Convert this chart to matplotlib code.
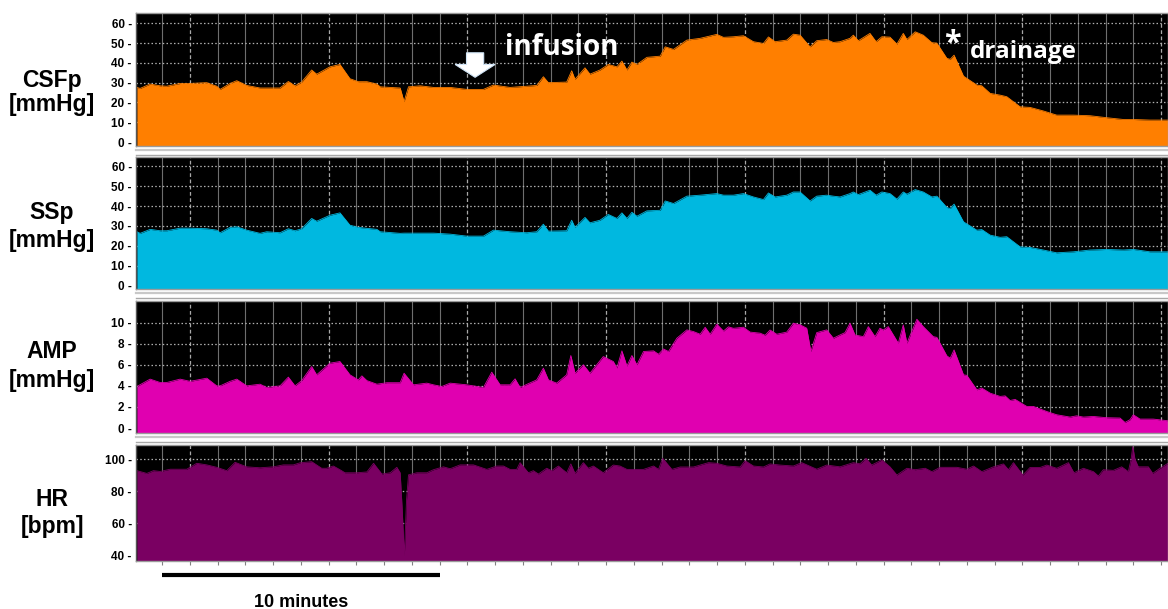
import numpy as np
import matplotlib
matplotlib.use("Agg")
import matplotlib.pyplot as plt
from matplotlib.patches import Polygon
from matplotlib.lines import Line2D

plt.rcParams['font.family'] = ['Liberation Sans', 'DejaVu Sans']

# ---------------------------------------------------------------- data
# time in minutes; CSFp and SSp share one sampling grid
t_press = [-0.91, -0.79, -0.43, -0.07, 0.17, 0.65, 1.01, 1.61, 1.97, 2.09, 2.45, 2.69, 3.05, 3.53,
           3.77, 4.25, 4.55, 4.79, 5.03, 5.39, 5.57, 6.05, 6.41, 6.77, 7.07, 7.38, 7.74, 7.86, 8.58,
           8.72, 8.88, 9.30, 9.78, 10.38, 10.98, 11.58, 11.94, 12.54, 13.14, 13.50, 13.74, 13.92,
           14.58, 14.76, 14.88, 15.24, 15.42, 15.78, 16.08, 16.39, 16.57, 16.75, 16.93, 17.11, 17.47,
           17.95, 18.13, 18.43, 18.91, 19.39, 19.99, 20.23, 20.59, 20.95, 21.31, 21.67, 21.85, 22.09,
           22.51, 22.75, 22.99,
           23.35, 23.59, 23.95, 24.19, 24.43, 24.79, 24.91, 25.09, 25.51, 25.73, 25.94, 26.23, 26.48,
           26.71, 26.84, 27.14, 27.43, 27.74, 27.92, 28.28, 28.40, 28.54, 28.88, 29.36, 29.54, 29.84,
           30.20, 30.44, 30.92, 31.28, 31.76, 32.24, 32.84, 33.44, 34.04, 34.64, 35.00, 35.60, 36.25]

csfp = [27.6, 27.1, 29.3, 28.4, 28.2, 29.6, 29.6, 30.0, 28.2, 26.6, 29.6, 31.0, 28.6, 27.3,
        27.3, 27.3, 30.6, 28.4, 30.3, 36.4, 34.3, 38.0, 39.2, 32.0, 30.5, 30.5, 29.3, 27.9, 27.3,
        20.4, 27.9, 28.4, 27.6, 27.6, 26.6, 26.6, 28.8, 27.6, 28.2, 28.6, 33.0, 30.0,
        30.3, 36.0, 31.7, 37.5, 34.3, 36.4, 39.2, 38.0, 40.9, 36.4, 40.4, 39.2, 42.8,
        43.4, 48.1, 46.8, 51.5, 52.4, 54.4, 52.9, 53.2, 53.7, 50.7, 49.8, 53.1, 50.7,
        51.5, 54.5, 54.0,
        48.1, 51.2, 51.8, 50.3, 50.7, 52.4, 54.0, 51.2, 54.9, 50.7, 53.2, 53.0, 49.5,
        54.9, 51.8, 55.7, 54.0, 50.2, 50.0, 42.3, 41.8, 43.9, 33.3, 28.8, 28.4, 24.6,
        23.7, 22.9, 17.8, 17.5, 15.7, 13.6, 13.6, 13.3, 12.3, 11.4, 11.4, 11.1, 11.1]

ssp = [27.1, 26.3, 28.3, 27.6, 27.6, 28.9, 28.9, 28.6, 27.9, 26.6, 29.3, 29.6, 27.9, 26.3,
       27.1, 26.6, 28.6, 27.6, 28.6, 33.8, 32.4, 35.4, 36.6, 30.4, 29.3, 28.8, 28.3, 27.1, 26.3,
       26.4, 26.4, 26.4, 26.4, 25.9, 24.9, 24.9, 27.9, 27.1, 26.6, 27.1, 30.9, 27.4,
       27.6, 32.9, 29.3, 34.3, 31.6, 32.9, 35.8, 33.8, 36.6, 33.8, 36.9, 34.9, 37.6,
       37.9, 42.6, 41.3, 45.0, 45.5, 46.3, 45.5, 45.5, 46.3, 44.6, 43.3, 46.6, 44.6,
       45.5, 47.1, 47.1,
       42.6, 45.0, 45.5, 45.0, 44.6, 46.3, 47.1, 45.8, 48.0, 45.5, 47.1, 46.3, 43.5,
       47.1, 46.0, 48.3, 47.1, 44.6, 45.0, 39.3, 38.8, 41.0, 32.1, 27.9, 28.2, 25.4,
       24.3, 24.6, 19.5, 19.2, 17.9, 16.5, 17.0, 17.9, 18.2, 17.9, 18.2, 17.0, 17.0]

t_amp = [-0.91, -0.43, -0.07, 0.17, 0.65, 1.01, 1.61, 1.97, 2.09, 2.45, 2.69, 3.05, 3.53, 3.77,
         4.25, 4.55, 4.79, 5.03, 5.39, 5.57, 6.05, 6.41, 6.77, 7.07, 7.20, 7.38, 7.74, 8.10, 8.58,
         8.72, 9.06, 9.54, 9.78, 10.08, 10.38, 10.98, 11.58, 11.88, 12.18, 12.54, 12.72, 12.90,
         13.50, 13.74, 13.92, 14.22, 14.58, 14.73, 14.88, 15.18, 15.42, 15.90, 16.26, 16.39, 16.57,
         16.75, 16.93, 17.11, 17.35, 17.71, 17.89, 18.07, 18.25, 18.55, 18.91, 19.15, 19.39, 19.57,
         19.75, 19.99, 20.23, 20.41, 20.59, 20.95, 21.19, 21.55, 21.73, 21.91, 22.15, 22.51, 22.75,
         22.99,
         23.23, 23.38, 23.59, 23.95, 24.19, 24.43, 24.61, 24.79, 24.97, 25.27, 25.45, 25.69, 25.87,
         25.99, 26.17, 26.53, 26.71, 26.84, 27.20, 27.43, 27.79, 27.92, 28.28, 28.40, 28.54, 28.88,
         29.00, 29.36, 29.54, 29.84, 30.20, 30.38, 30.56, 30.74, 31.16, 31.40, 31.88, 32.24, 32.72,
         32.96, 33.20, 33.56, 34.04, 34.52, 34.70, 34.88, 35.00, 35.24, 35.72, 36.25]

amp = [3.94, 4.64, 4.32, 4.32, 4.64, 4.43, 4.73, 4.0, 4.0, 4.43, 4.64, 4.0, 4.16, 3.85,
       4.0, 4.83, 4.0, 4.5, 5.83, 5.05, 6.15, 6.31, 5.05, 4.57, 4.95, 4.5, 4.16, 4.3, 4.3,
       5.2, 4.1, 4.26, 4.1, 3.94, 4.26, 4.1, 3.85, 5.3, 4.1, 4.1, 4.67, 3.85,
       4.57, 5.68, 4.57, 4.26, 5.05, 6.88, 5.2, 6.0, 5.2, 6.78, 6.31, 5.7, 7.32,
       5.88, 6.88, 6.0, 7.26, 7.32, 7.0, 7.5, 7.26, 8.52, 9.31, 9.15, 8.9, 9.56,
       8.9, 9.85, 9.2, 9.6, 9.46, 9.56, 9.1, 9.0, 8.8, 9.3, 8.9, 9.1, 9.94,
       9.8,
       9.47, 7.26, 9.05, 9.31, 8.52, 8.83, 9.05, 9.94, 8.83, 8.67, 9.62, 8.67, 9.47,
       9.3, 9.62, 8.05, 9.78, 8.05, 10.32, 9.62, 8.67, 8.6, 6.85, 6.63, 7.41, 5.05,
       5.0, 3.63, 3.79, 3.31, 3.0, 3.05, 2.61, 2.72, 2.05, 2.05, 1.57, 1.26, 1.04,
       1.16, 1.04, 1.1, 0.98, 0.95, 0.53, 0.79, 1.26, 0.85, 0.85, 0.69]

t_hr = [-0.91, -0.55, -0.31, -0.07, 0.29, 0.89, 1.25, 1.61, 1.97, 2.33, 2.63, 3.05, 3.53, 4.01,
        4.37, 4.73, 4.97, 5.39, 5.75, 5.93, 6.17, 6.41, 6.59, 7.02, 7.38, 7.62, 7.92, 8.22, 8.46,
        8.58, 8.65, 8.73, 8.81, 8.88,
        9.18, 9.54, 9.78, 10.14, 10.38, 10.74, 11.22,
        11.70, 12.06, 12.30, 12.54, 12.78, 12.90, 13.20, 13.38, 13.56, 13.86, 14.04, 14.28, 14.58,
        14.73, 14.88, 15.18, 15.36, 15.54, 15.90, 16.26, 16.50, 16.75, 17.35, 17.71, 17.89, 18.04,
        18.37, 18.67, 19.15, 19.69, 19.99, 20.35, 20.83, 21.01, 21.31, 21.67, 21.91, 22.27, 22.75,
        23.05,
        23.59, 23.95, 24.43, 24.91, 25.15, 25.37, 25.57, 25.94, 26.23, 26.48, 26.84, 27.14, 27.50,
        27.74, 28.04, 28.64, 29.00, 29.24, 29.54, 29.96, 30.32, 30.50, 30.68, 31.02, 31.28, 31.64,
        31.88, 32.24, 32.66, 32.86, 33.20, 33.56, 33.74, 33.92, 34.28, 34.58, 34.82, 34.92, 34.98,
        35.06, 35.18, 35.54, 35.70, 35.96, 36.25]

hr = [92.9, 91.2, 92.9, 92.4, 93.8, 93.8, 97.5, 96.5, 95.0, 92.9, 98.1, 95.3, 94.7, 95.3,
      96.5, 96.5, 97.8, 98.5, 94.4, 94.4, 95.8, 93.5, 91.6, 91.6, 92.1, 97.5, 90.8, 91.6, 95.0,
      91.6, 70.0, 40.2, 75.0, 90.3,
      91.6, 91.6, 93.5, 95.3, 94.1, 96.5, 96.5,
      93.7, 95.8, 95.8, 93.7, 93.7, 97.9, 91.6, 92.9, 90.8, 94.4, 92.9, 95.8, 91.6,
      97.1, 91.2, 97.9, 94.4, 95.8, 91.6, 96.4, 95.8, 93.7, 93.7, 95.8, 93.7, 100.6,
      93.7, 95.2, 95.2, 97.9, 97.5, 95.8, 95.2, 99.1, 95.8, 95.2, 97.1, 96.4, 95.8,
      97.9,
      93.8, 96.4, 95.3, 97.9, 97.2, 100.6, 96.4, 99.6, 95.3, 90.2, 94.4, 93.5, 94.4,
      92.3, 95.0, 95.0, 93.8, 95.8, 92.3, 95.3, 97.1, 93.5, 97.9, 90.2, 94.9, 94.9,
      96.4, 94.4, 97.9, 91.6, 94.4, 92.3, 89.6, 93.5, 93.1, 95.3, 92.3, 100.0, 108.0,
      100.0, 95.3, 95.3, 91.2, 94.4, 97.5]

channel_names = ["CSFp", "SSp", "AMP", "HR"]
channel_units = ["[mmHg]", "[mmHg]", "[mmHg]", "[bpm]"]
channel_ticks = [[0, 10, 20, 30, 40, 50, 60],
                 [0, 10, 20, 30, 40, 50, 60],
                 [0, 2, 4, 6, 8, 10],
                 [40, 60, 80, 100]]

# ---------------------------------------------------------------- layout
W, H = 1168, 609
fig = plt.figure(figsize=(W / 100, H / 100), dpi=100)
fig.patch.set_facecolor("white")

def px_rect(x0, y0, x1, y1):
    return [x0 / W, 1 - y1 / H, (x1 - x0) / W, (y1 - y0) / H]

panels = [
    dict(t=t_press, v=csfp, color="#FF7F00", ylim=(-2.0, 65.2), rect=(136, 13, 1168, 146)),
    dict(t=t_press, v=ssp, color="#00B8E0", ylim=(-1.7, 64.7), rect=(136, 157, 1168, 289)),
    dict(t=t_amp, v=amp, color="#E000B0", ylim=(-0.47, 12.05), rect=(136, 301, 1168, 433)),
    dict(t=t_hr, v=hr, color="#7A0062", ylim=(36.6, 108.9), rect=(136, 445, 1168, 561)),
]
xlim = (-0.94, 36.25)
label_centers = [(93, 81, 105), (223, 213, 240), (366, 352, 380), (513, 500, 526)]

axes = []
for i, p in enumerate(panels):
    ax = fig.add_axes(px_rect(*p["rect"]))
    ax.set_facecolor("black")
    ax.set_xlim(*xlim)
    ax.set_ylim(*p["ylim"])
    # vertical minute grid, dashed every 5 minutes
    for m in range(0, 37):
        if (m - 1) % 5 == 0:
            ax.axvline(m, color="#a8a8a8", lw=0.9, ls=(0, (3, 2)), zorder=1)
        else:
            ax.axvline(m, color="#6e6e6e", lw=0.8, zorder=1)
    for yv in channel_ticks[i]:
        if yv != channel_ticks[i][0]:
            ax.axhline(yv, color="#b0b0b0", lw=0.9, ls=(0, (1.2, 1.8)), zorder=1)
    ax.fill_between(p["t"], p["ylim"][0], p["v"], color=p["color"], lw=0, zorder=2)
    ax.plot(p["t"], p["v"], color=p["color"], lw=0.6, zorder=2)
    ax.set_yticks(channel_ticks[i])
    ax.set_yticklabels([f"{v} -" for v in channel_ticks[i]])
    ax.tick_params(axis="y", length=0, pad=3, labelsize=8.5)
    for lab in ax.get_yticklabels():
        lab.set_fontweight("bold")
    if i == 3:
        ax.set_xticks(range(0, 37))
        ax.tick_params(axis="x", length=3, width=0.8, color="#808080", labelbottom=False)
    else:
        ax.set_xticks([])
    for s in ax.spines.values():
        s.set_color("#9a9a9a")
        s.set_linewidth(1.0)
    ax.spines["left"].set_color("#555555")
    # channel label block
    _, yn, yu = label_centers[i]
    fig.text(52 / W, 1 - yn / H, channel_names[i], ha="center", va="center",
             fontsize=16.5, fontweight="bold")
    fig.text(52 / W, 1 - yu / H, channel_units[i], ha="center", va="center",
             fontsize=16.5, fontweight="bold")
    axes.append(ax)

# splitter bars between channels
for ybar in (146, 289, 433):
    for dy, c, lw in ((3.5, "#c8c8c8", 1.6), (8.5, "#a8a8a8", 1.0)):
        fig.add_artist(Line2D([136 / W, 1.0], [1 - (ybar + dy) / H] * 2,
                              transform=fig.transFigure, color=c, lw=lw))

# infusion marker (arrow) and drainage marker
ax0 = axes[0]
t_inf = 11.28
arrow = Polygon([(t_inf - 0.31, 45.1), (t_inf + 0.31, 45.1), (t_inf + 0.31, 39.2),
                 (t_inf + 0.72, 39.2), (t_inf, 32.7), (t_inf - 0.72, 39.2),
                 (t_inf - 0.31, 39.2)], closed=True, facecolor="white",
                edgecolor="#cfe3f5", lw=0.8, zorder=5)
ax0.add_patch(arrow)
ax0.text(12.35, 48.0, "infusion", color="white", fontsize=20, fontweight="bold",
         family=["Open Sans", "DejaVu Sans"], ha="left", va="center", zorder=6)
t_drain = 28.47
ax0.text(t_drain, 50.0, "*", color="white", fontsize=22, fontweight="bold",
         family=["Open Sans", "DejaVu Sans"], ha="center", va="center", zorder=6)
ax0.text(29.1, 45.5, "drainage", color="white", fontsize=17.5, fontweight="bold",
         family=["Open Sans", "DejaVu Sans"], ha="left", va="center", zorder=6)

# 10-minute scale bar below the HR channel
ax3 = axes[3]
scale_start, scale_len = 0.0, 10.0
ax3.plot([scale_start, scale_start + scale_len], [28.0, 28.0], color="black", lw=3,
         solid_capstyle="butt", clip_on=False)
ax3.text(scale_start + scale_len / 2, 11.0, "10 minutes", ha="center", va="center",
         fontsize=13, fontweight="bold", clip_on=False)

fig.savefig("out.png", dpi=100, facecolor="white")
